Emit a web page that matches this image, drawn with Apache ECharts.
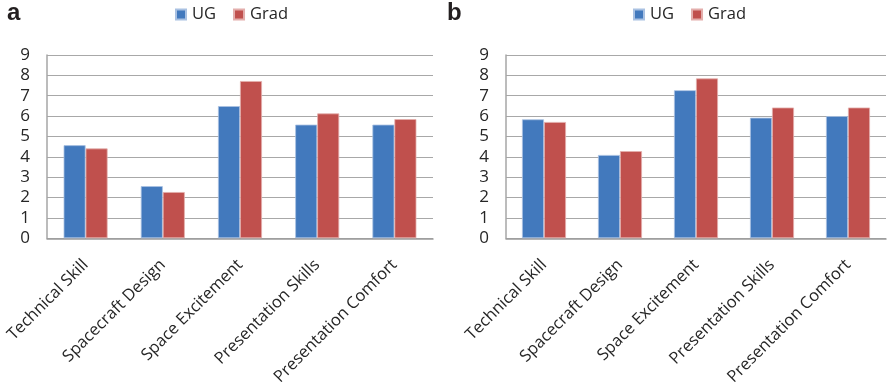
<!DOCTYPE html>
<html>
<head>
<meta charset="utf-8">
<script src="https://cdn.jsdelivr.net/npm/echarts@6/dist/echarts.min.js"></script>
<style>
  html, body { margin: 0; padding: 0; background: #fff; }
  #chart { width: 888px; height: 388px; }
</style>
</head>
<body>
<div id="chart"></div>
<script>
// Survey ratings: undergraduate vs graduate students, two survey rounds (a, b)
const categories = ['Technical Skill', 'Spacecraft Design', 'Space Excitement', 'Presentation Skills', 'Presentation Comfort'];
const ugA   = [4.57, 2.56, 6.49, 5.58, 5.58];
const gradA = [4.41, 2.27, 7.72, 6.13, 5.85];
const ugB   = [5.84, 4.09, 7.27, 5.92, 6.00];
const gradB = [5.71, 4.28, 7.85, 6.42, 6.42];
const yMin = 0, yMax = 9, yStep = 1;
const seriesNames = ['UG', 'Grad'];
const panelLabels = ['a', 'b'];

const BLUE = '#4279bd';
const RED = '#c0504d';
const FONT = 'Open Sans';
const TEXT = '#262626';

const chart = echarts.init(document.getElementById('chart'), null, { renderer: 'canvas' });

const grids = [
  { left: 47, right: 455, top: 55, bottom: 148 },
  { left: 506, right: 2, top: 55, bottom: 148 }
];

function xAxisFor(i) {
  return {
    type: 'category', gridIndex: i, data: categories,
    axisLine: { show: true, lineStyle: { color: '#9a9a9a', width: 1.5 } },
    axisTick: { show: false },
    axisLabel: { rotate: 45, margin: 24, fontFamily: FONT, fontSize: 16.5, color: TEXT, interval: 0 }
  };
}
function yAxisFor(i) {
  return {
    type: 'value', gridIndex: i, min: yMin, max: yMax, interval: yStep,
    axisLine: { show: true, lineStyle: { color: '#a6a6a6', width: 1.5 } },
    axisTick: { show: false },
    splitLine: { show: true, lineStyle: { color: '#a8a8a8', width: 1.2 } },
    axisLabel: { margin: 17, fontFamily: FONT, fontSize: 17, color: TEXT }
  };
}
function bar(name, data, idx, color, border) {
  return {
    name, type: 'bar', data, xAxisIndex: idx, yAxisIndex: idx,
    barWidth: 22, barGap: '0%',
    itemStyle: { color, borderColor: border, borderWidth: 0.8 },
    emphasis: { disabled: true }
  };
}

const option = {
  animation: false,
  backgroundColor: '#ffffff',
  title: panelLabels.map((t, i) => ({
    text: t, left: i === 0 ? 7 : 447, top: 1, padding: 0,
    textStyle: { fontFamily: 'Liberation Sans', fontWeight: 'bold', fontSize: 24, color: '#231f20' }
  })),
  legend: [0, 1].map(i => ({
    data: seriesNames, left: i === 0 ? 175 : 633, top: 6,
    itemWidth: 10, itemHeight: 10, itemGap: 17, padding: 0,
    icon: 'rect',
    textStyle: { fontFamily: FONT, fontSize: 16.5, color: TEXT, padding: [0, 0, 0, 1] },
    selectedMode: false
  })),
  grid: grids,
  xAxis: [xAxisFor(0), xAxisFor(1)],
  yAxis: [yAxisFor(0), yAxisFor(1)],
  series: [
    bar(seriesNames[0], ugA, 0, BLUE, '#a9c1e2'),
    bar(seriesNames[1], gradA, 0, RED, '#e3aeac'),
    bar(seriesNames[0], ugB, 1, BLUE, '#a9c1e2'),
    bar(seriesNames[1], gradB, 1, RED, '#e3aeac')
  ]
};
chart.setOption(option);
</script>
</body>
</html>
